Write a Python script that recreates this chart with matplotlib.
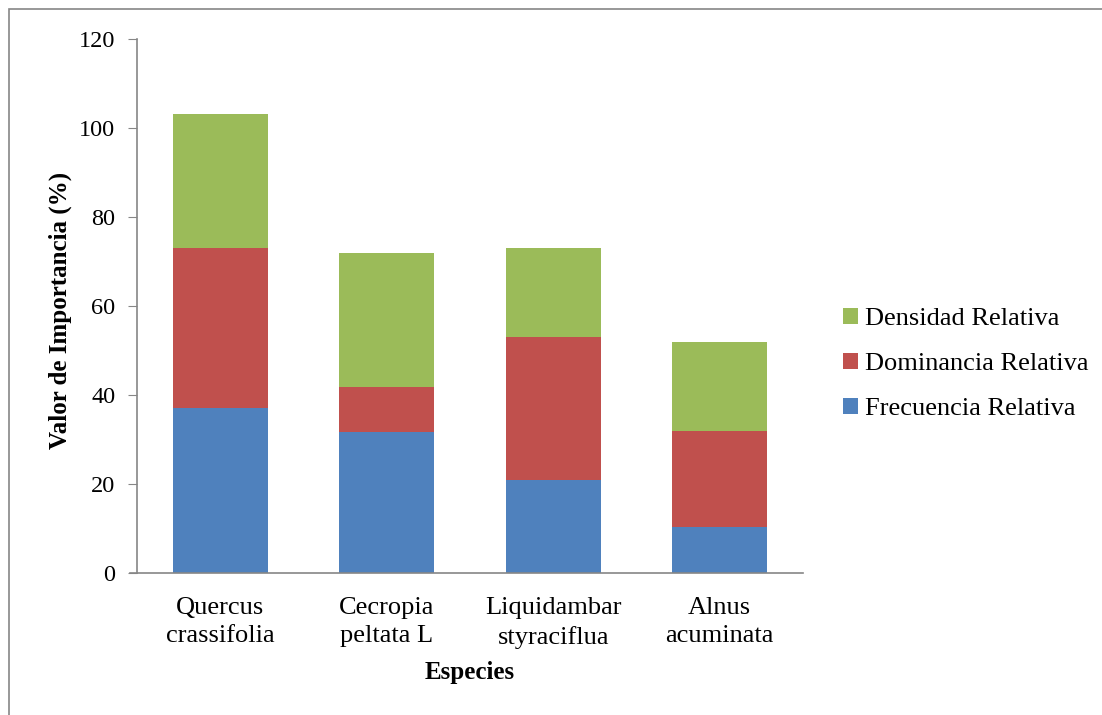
import numpy as np
import matplotlib.pyplot as plt
from matplotlib.patches import Rectangle

especies = ['Quercus\ncrassifolia', 'Cecropia\npeltata L', 'Liquidambar\nstyraciflua', 'Alnus\nacuminata']
frecuencia = [37.0, 31.6, 21.0, 10.4]
dominancia = [36.0, 10.3, 32.0, 21.4]
densidad = [30.1, 30.0, 20.0, 20.0]

plt.rcParams['font.family'] = ['Liberation Serif', 'DejaVu Serif']
plt.rcParams['font.size'] = 18

fig = plt.figure(figsize=(11.02, 7.15), dpi=100)
ax = fig.add_axes([0.1243, 0.1986, 0.6044, 0.7469])

# chart area frame
fig.patches.append(Rectangle((9 / 1102, -0.1), 2, (715 - 9) / 715 + 0.1,
                             transform=fig.transFigure, fill=False,
                             edgecolor='#868686', lw=1.2))

x = np.arange(len(especies))
w = 0.57
fr = np.array(frecuencia)
do = np.array(dominancia)
de = np.array(densidad)

b1 = ax.bar(x, fr, w, color='#4F81BD', label='Frecuencia Relativa')
b2 = ax.bar(x, do, w, bottom=fr, color='#C0504D', label='Dominancia Relativa')
b3 = ax.bar(x, de, w, bottom=fr + do, color='#9BBB59', label='Densidad Relativa')

ax.set_xlim(-0.5, len(especies) - 0.5)
ax.set_ylim(0, 120)
ax.set_yticks(np.arange(0, 121, 20))
ax.set_xticks(x)
ax.set_xticklabels(especies, linespacing=1.4, fontsize=19)
ax.tick_params(axis='x', length=0, pad=17)
ax.tick_params(axis='y', length=6.5, color='#868686', pad=9, labelsize=17.5)

for s in ['top', 'right']:
    ax.spines[s].set_visible(False)
for s in ['left', 'bottom']:
    ax.spines[s].set_color('#868686')
    ax.spines[s].set_linewidth(1.2)
ax.spines['bottom'].set_bounds(-0.5 - 7 / 166.5, len(especies) - 0.5)

ax.set_ylabel('Valor de Importancia (%)', fontweight='bold', fontsize=18)
ax.yaxis.set_label_coords(-0.0976, 0.4925)
ax.set_xlabel('Especies', fontweight='bold', fontsize=18)
ax.xaxis.set_label_coords(0.5, -0.165)

ax.legend(handles=[b3, b2, b1], loc='center left',
          bbox_to_anchor=(843 / 1102, 1 - 364 / 715), bbox_transform=fig.transFigure,
          frameon=False, borderpad=0, borderaxespad=0,
          handlelength=0.57, handleheight=0.57, handletextpad=0.27,
          labelspacing=0.86, fontsize=19)

fig.savefig('out.png', dpi=100)
